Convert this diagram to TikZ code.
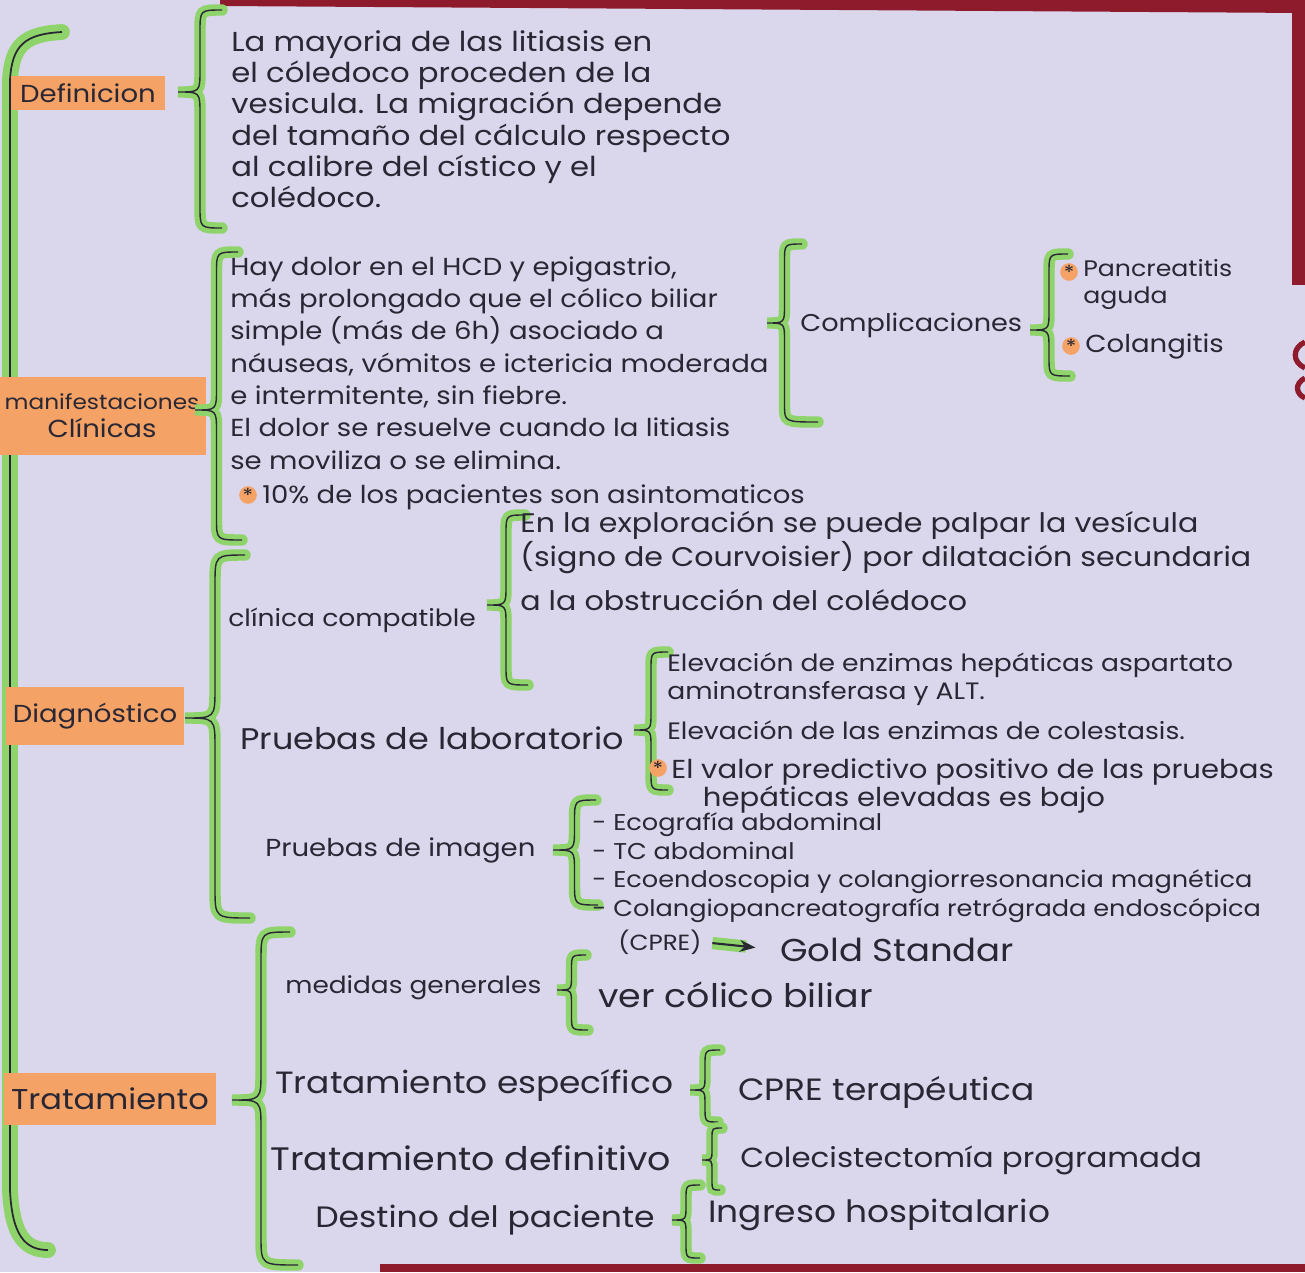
\documentclass[tikz,border=0pt]{standalone}
\usepackage{fontspec}
\setmainfont{Poppins}[FakeStretch=1.12]
\usetikzlibrary{calc,arrows.meta}
\definecolor{paper}{HTML}{DAD6EC}
\definecolor{ink}{HTML}{2A2735}
\definecolor{hlgreen}{HTML}{8ED46A}
\definecolor{hlorange}{HTML}{F4A266}
\definecolor{maroon}{HTML}{8E1B2C}
% curly bracket: top end, tip, bottom end
\newcommand{\curly}[3]{%
  \draw[brc] let \p1=(#1), \p2=(#2), \p3=(#3), \n1={(\x1+\x2)/2}, \n2={(\x1-\x2)/2} in
    (\p1) .. controls (\n1,\y1) .. (\n1,\y1-\n2) -- (\n1,\y2+\n2) .. controls (\n1,\y2) .. (\p2)
    .. controls (\n1,\y2) .. (\n1,\y2-\n2) -- (\n1,\y3+\n2) .. controls (\n1,\y3) .. (\p3);}
\newcommand{\fs}[1]{\fontsize{#1}{1.15\dimexpr#1pt\relax}\selectfont}
\begin{document}
\begin{tikzpicture}[x=0.02cm,y=-0.02cm,
  every node/.style={text=ink, inner sep=0pt},
  tag/.style={fill=hlorange, inner xsep=4pt, inner ysep=4pt, align=center, font=\fs{14}},
  blk/.style={anchor=north west, align=left},
  brc/.style={draw=ink, line width=0.8pt, preaction={draw=hlgreen, line width=6.5pt, line cap=round}},
  mainbr/.style={draw=ink, line width=1pt, preaction={draw=hlgreen, line width=9pt, line cap=round}},
  dotmark/.style={circle, fill=hlorange, minimum size=10pt, font=\fs{11}},
]
\useasboundingbox (0,0) rectangle (1305,1272);
\fill[paper] (0,0) rectangle (1305,1272);
\fill[maroon] (220,0) -- (1305,0) -- (1305,13) -- (220,6) -- cycle;
\fill[maroon] (1292,0) rectangle (1305,285);
\fill[maroon] (380,1264) rectangle (1305,1272);
\draw[maroon, line width=3pt] (1305,342) .. controls (1292,348) and (1292,362) .. (1305,368);
\draw[maroon, line width=3pt] (1305,378) .. controls (1294,384) and (1296,394) .. (1305,398);

% main bracket
\draw[mainbr] (62,32) .. controls (25,34) and (12,45) .. (10,80) -- (10,1190)
  .. controls (12,1235) and (25,1250) .. (48,1250);

% Definicion
\node[tag,minimum width=88pt,minimum height=17pt] (defn) at (88,93) {Definicion};
\coordinate (defT) at (222,10);
\coordinate (defP) at (178,92);
\coordinate (defB) at (222,228);
\curly{defT}{defP}{defB}
\node[blk,font=\fontsize{15.6}{17.8}\selectfont] (deftxt) at (231,30) {La mayoria de las litiasis en\\
el cóledoco proceden de la\\
vesicula. La migración depende\\
del tamaño del cálculo respecto\\
al calibre del cístico y el\\
colédoco.};

% Manifestaciones clinicas
\node[tag,minimum width=112pt,minimum height=44pt] (manif) at (102,416) {{\fs{11.8}manifestaciones}\\{\fs{14}Clínicas}};
\coordinate (manT) at (238,252);
\coordinate (manP) at (195,410);
\coordinate (manB) at (242,540);
\curly{manT}{manP}{manB}
\node[blk,font=\fontsize{14}{18.4}\selectfont] (mantxt) at (230,256) {Hay dolor en el HCD y epigastrio,\\
más prolongado que el cólico biliar\\
simple (más de 6h) asociado a\\
náuseas, vómitos e ictericia moderada\\
e intermitente, sin fiebre.\\
El dolor se resuelve cuando la litiasis\\
se moviliza o se elimina.};
\node[dotmark] (st1) at (248,495) {*};
\node[font=\fs{14},anchor=base west] (asint) at (262,503) {10\% de los pacientes son asintomaticos};

\coordinate (comT) at (802,244);
\coordinate (comP) at (767,323);
\coordinate (comB) at (818,422);
\curly{comT}{comP}{comB}
\node[font=\fs{13.8},anchor=west] (compl) at (800,325) {Complicaciones};
\coordinate (cxT) at (1068,254);
\coordinate (cxP) at (1030,330);
\coordinate (cxB) at (1070,376);
\curly{cxT}{cxP}{cxB}
\node[dotmark] (st2) at (1069,272) {*};
\node[blk,font=\fontsize{12.8}{15.3}\selectfont] (pancr) at (1083,259) {Pancreatitis\\aguda};
\node[dotmark] (st3) at (1071,346) {*};
\node[font=\fs{14},anchor=west] (colang) at (1085,346) {Colangitis};

% Diagnostico
\node[tag,minimum width=96pt,minimum height=33pt] (diag) at (95,716) {Diagnóstico};
\coordinate (diaT) at (245,555);
\coordinate (diaP) at (185,718);
\coordinate (diaB) at (250,918);
\curly{diaT}{diaP}{diaB}

\node[font=\fs{13.5},anchor=west] (clin) at (228,620) {clínica compatible};
\coordinate (clT) at (525,515);
\coordinate (clP) at (487,605);
\coordinate (clB) at (528,685);
\curly{clT}{clP}{clB}
\node[blk,font=\fontsize{15.3}{15.9}\selectfont] (clintxt) at (520,511) {En la exploración se puede palpar la vesícula\\
(signo de Courvoisier) por dilatación secundaria\\[8pt]
a la obstrucción del colédoco};

\node[font=\fs{17},anchor=west] (lab) at (240,738) {Pruebas de laboratorio};
\coordinate (lbT) at (668,652);
\coordinate (lbP) at (634,730);
\coordinate (lbB) at (668,790);
\curly{lbT}{lbP}{lbB}
\node[blk,font=\fontsize{13.5}{16}\selectfont] (labtxt) at (667,652) {Elevación de enzimas hepáticas aspartato\\
aminotransferasa y ALT.\\[7pt]
Elevación de las enzimas de colestasis.};
\node[dotmark] (st4) at (658,768) {*};
\node[blk,font=\fontsize{14.8}{16}\selectfont] (pred) at (671,758) {El valor predictivo positivo de las pruebas\\
\hspace*{18pt}hepáticas elevadas es bajo};

\node[font=\fs{14},anchor=west] (img) at (265,850) {Pruebas de imagen};
\coordinate (imT) at (596,800);
\coordinate (imP) at (553,850);
\coordinate (imB) at (598,905);
\curly{imT}{imP}{imB}
\node[blk,font=\fontsize{13}{16.4}\selectfont] (imgtxt) at (592,812) {- Ecografía abdominal\\
- TC abdominal\\
- Ecoendoscopia y colangiorresonancia magnética\\
- Colangiopancreatografía retrógrada endoscópica};
\node[font=\fs{12.5},anchor=west] (cpre) at (618,942) {(CPRE)};
\node[font=\fs{18},anchor=west] (gold) at (780,950) {Gold Standar};
\draw[-{Stealth[length=9pt]}, ink, line width=1.2pt, shorten <=6pt, shorten >=14pt,
  preaction={draw=hlgreen, line width=7pt}] (cpre.east) -- (gold.west);

% Tratamiento
\node[tag,minimum width=119pt,minimum height=30pt,font=\fs{16.3}] (trat) at (110,1099) {Tratamiento};
\coordinate (trT) at (290,932);
\coordinate (trP) at (232,1100);
\coordinate (trB) at (298,1265);
\curly{trT}{trP}{trB}

\node[font=\fs{13.4},anchor=west] (med) at (285,988) {medidas generales};
\coordinate (mdT) at (586,955);
\coordinate (mdP) at (557,990);
\coordinate (mdB) at (588,1030);
\curly{mdT}{mdP}{mdB}
\node[font=\fs{18.5},anchor=west] (ver) at (598,995) {ver cólico biliar};

\node[font=\fs{17.5},anchor=west] (esp) at (275,1085) {Tratamiento específico};
\coordinate (esT) at (720,1050);
\coordinate (esP) at (690,1090);
\coordinate (esB) at (718,1122);
\curly{esT}{esP}{esB}
\node[font=\fs{17.5},anchor=west] (cpret) at (738,1092) {CPRE terapéutica};

\node[font=\fs{18.5},anchor=west] (dfn) at (270,1158) {Tratamiento definitivo};
\coordinate (dfT) at (722,1128);
\coordinate (dfP) at (702,1160);
\coordinate (dfB) at (720,1190);
\curly{dfT}{dfP}{dfB}
\node[font=\fs{15.7},anchor=west] (colec) at (740,1160) {Colecistectomía programada};

\node[font=\fs{16.8},anchor=west] (dest) at (315,1220) {Destino del paciente};
\coordinate (dsT) at (700,1185);
\coordinate (dsP) at (672,1220);
\coordinate (dsB) at (700,1258);
\curly{dsT}{dsP}{dsB}
\node[font=\fs{17.5},anchor=west] (ingr) at (708,1215) {Ingreso hospitalario};
\end{tikzpicture}
\end{document}
